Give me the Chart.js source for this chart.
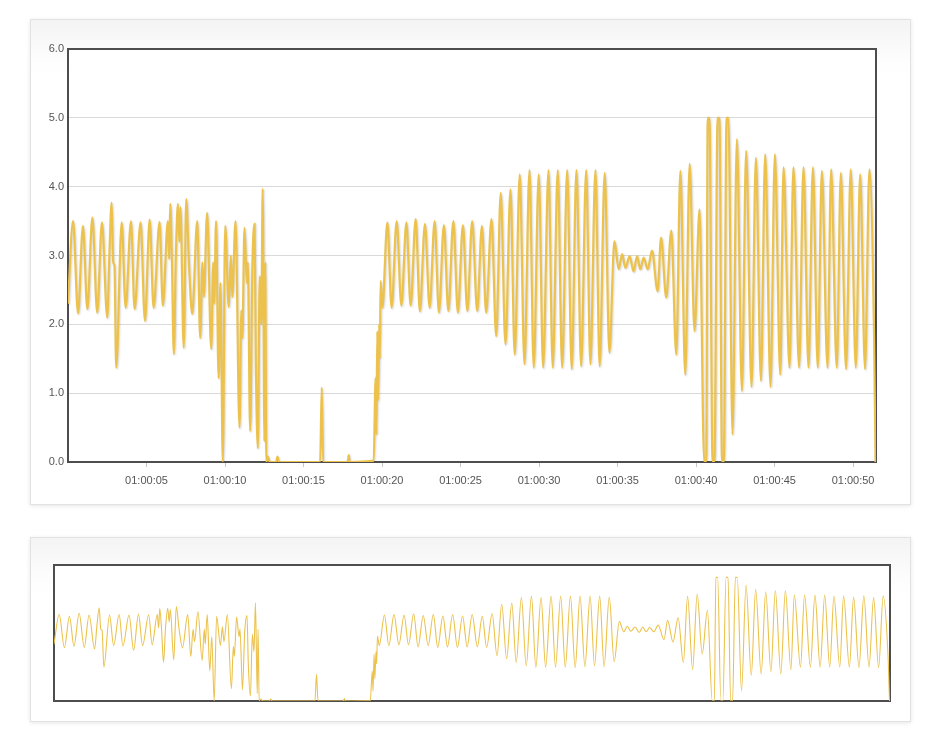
<!DOCTYPE html>
<html>
<head>
<meta charset="utf-8">
<script src="https://cdn.jsdelivr.net/npm/chart.js@4/dist/chart.umd.min.js"></script>
<style>
  html, body { margin: 0; padding: 0; background: #fff; }
  body { width: 930px; height: 736px; position: relative; overflow: hidden; }
  .card {
    position: absolute; left: 30px; width: 879px;
    border: 1px solid #e2e2e2;
    background: linear-gradient(#f4f4f4 0px, #fdfdfd 40px, #ffffff 60px);
    box-shadow: 0 1px 4px rgba(0,0,0,0.10);
  }
  #card1 { top: 19px; height: 484px; }
  #card2 { top: 537px; height: 183px; }
  canvas { position: absolute; left: 0; top: 0; }
</style>
</head>
<body>
<div class="card" id="card1"><canvas id="main" width="881" height="486"></canvas></div>
<div class="card" id="card2"><canvas id="nav" width="881" height="185"></canvas></div>
<script>
// seconds after 01:00:00
const seconds = [
  0.00,0.32,0.64,0.95,1.23,1.55,1.86,2.16,2.50,2.64,2.78,2.88,2.96,3.07,3.42,3.67,4.01,4.24,4.62,4.90,
  5.20,5.45,5.83,6.04,6.36,6.44,6.51,6.62,6.74,6.87,7.00,7.09,7.16,7.37,7.53,7.70,7.91,8.23,8.42,8.56,
  8.65,8.86,9.12,9.25,9.31,9.43,9.59,9.71,9.86,10.01,10.24,10.37,10.46,10.67,10.92,11.04,11.10,11.24,11.39,11.45,
  11.60,11.74,11.88,11.96,12.09,12.21,12.31,12.40,12.51,12.56,12.63,12.72,12.85,13.25,13.34,13.43,16.06,16.16,16.25,17.81,
  17.88,17.94,19.47,19.59,19.64,19.70,19.75,19.82,19.86,19.91,20.02,
  20.34,20.61,20.93,21.23,21.55,21.82,22.14,22.41,22.73,23.03,23.35,23.62,23.94,24.22,24.54,24.83,25.15,25.43,25.74,26.06,
  26.36,26.63,26.97,27.27,27.56,27.86,28.18,28.45,28.77,29.07,29.39,29.66,29.98,30.26,30.60,30.87,31.19,31.47,31.79,32.08,
  32.38,32.68,33.00,33.27,33.59,33.86,34.18,34.48,34.80,35.07,35.29,35.50,35.77,36.02,36.24,36.45,36.66,36.92,37.19,37.55,
  37.77,38.10,38.42,38.74,39.00,39.31,39.59,39.90,40.22,40.52,40.65,40.74,40.85,41.05,41.17,41.37,41.49,41.65,41.77,41.94,
  42.06,42.32,42.60,42.92,43.19,43.53,43.81,44.13,44.40,44.74,45.02,45.36,45.57,45.95,46.20,46.56,46.84,47.16,47.44,47.75,
  48.01,48.37,48.60,48.96,49.22,49.55,49.85,50.17,50.45,50.76,51.04,51.34,51.43
];
const readings = [
  2.30,3.50,2.16,3.43,2.22,3.55,2.17,3.48,2.10,3.04,3.77,2.90,2.85,1.37,3.48,2.24,3.50,2.22,3.48,2.05,
  3.52,2.24,3.49,2.27,3.50,2.95,3.75,2.90,1.57,3.00,3.75,3.20,3.70,1.66,3.82,2.90,2.15,3.50,1.80,2.90,
  2.40,3.62,1.64,2.90,2.30,3.50,1.22,2.60,0.00,3.43,2.25,3.00,2.40,3.50,0.50,2.20,1.80,3.40,2.60,2.90,
  0.45,2.80,3.46,1.50,0.20,2.70,2.00,3.97,0.30,2.90,0.00,0.08,0.00,0.00,0.08,0.00,0.00,1.08,0.00,0.00,
  0.10,0.00,0.02,1.22,0.40,1.90,0.90,2.00,1.50,2.63,2.24,
  3.48,2.24,3.50,2.27,3.48,2.27,3.53,2.19,3.46,2.24,3.50,2.17,3.44,2.19,3.50,2.17,3.44,2.19,3.50,2.19,
  3.43,2.17,3.53,1.83,3.91,1.71,3.96,1.56,4.18,1.42,4.24,1.37,4.18,1.37,4.24,1.37,4.24,1.37,4.24,1.35,
  4.24,1.39,4.24,1.42,4.24,1.39,4.20,1.59,3.21,2.80,3.02,2.82,2.99,2.77,2.99,2.80,2.97,2.80,3.07,2.48,
  3.26,2.39,3.36,1.56,4.23,1.27,4.33,1.90,3.67,0.00,0.00,5.00,5.00,0.00,0.00,5.00,5.00,0.00,0.00,5.00,
  5.00,0.40,4.69,1.03,4.52,1.09,4.42,1.18,4.47,1.09,4.47,1.27,4.28,1.37,4.28,1.37,4.28,1.37,4.28,1.37,
  4.23,1.37,4.25,1.37,4.20,1.35,4.25,1.37,4.18,1.35,4.25,1.80,0.00
];
const xTickSeconds = [5, 10, 15, 20, 25, 30, 35, 40, 45, 50];
const yTickValues = [0, 1, 2, 3, 4, 5, 6];
const timeStart = 0;
const timeEnd = 51.46;

const points = seconds.map((s, i) => ({ x: s, y: readings[i] }));
const lineColor = '#ecc24c';
const fontFam = '"Liberation Sans", Arial, sans-serif';

function fmtTime(v) {
  const s = Math.round(v);
  return '01:00:' + String(s).padStart(2, '0');
}

const framePlugin = {
  id: 'frame',
  beforeDraw(chart) {
    const { ctx, chartArea: a } = chart;
    ctx.save();
    ctx.fillStyle = '#ffffff';
    ctx.fillRect(a.left, a.top, a.width, a.height);
    ctx.restore();
  },
  beforeDatasetsDraw(chart) {
    const { ctx, chartArea: a } = chart;
    ctx.save();
    ctx.strokeStyle = '#4d4d4d';
    ctx.lineWidth = 2;
    ctx.strokeRect(a.left, a.top, a.width, a.height);
    ctx.restore();
  }
};
const shadowPlugin = {
  id: 'lineShadow',
  beforeDatasetDraw(chart) {
    const ctx = chart.ctx;
    ctx.save();
    ctx.shadowColor = chart.options.plugins.lineShadow.color;
    ctx.shadowBlur = 2;
    ctx.shadowOffsetX = 1;
    ctx.shadowOffsetY = 1;
  },
  afterDatasetDraw(chart) { chart.ctx.restore(); }
};

new Chart(document.getElementById('main'), {
  type: 'line',
  data: { datasets: [{
    data: points, borderColor: lineColor, borderWidth: 2.2, pointRadius: 0,
    cubicInterpolationMode: 'monotone', fill: false
  }]},
  options: {
    responsive: false, animation: false, devicePixelRatio: 1,
    layout: { padding: { top: 29, right: 36, left: 0, bottom: 0 } },
    plugins: { legend: { display: false }, tooltip: { enabled: false }, lineShadow: { color: 'rgba(0,0,0,0.16)' } },
    scales: {
      x: {
        type: 'linear', min: timeStart, max: timeEnd,
        afterBuildTicks(scale) { scale.ticks = xTickSeconds.map(v => ({ value: v })); },
        afterFit(scale) { scale.height = 44; },
        border: { display: false },
        grid: { drawOnChartArea: false, drawTicks: true, tickLength: 5, color: '#c8c8c8' },
        ticks: { callback: v => fmtTime(v), color: '#555', font: { family: fontFam, size: 11 }, padding: 7, maxRotation: 0, autoSkip: false }
      },
      y: {
        min: 0, max: 6,
        afterBuildTicks(scale) { scale.ticks = yTickValues.map(v => ({ value: v })); },
        afterFit(scale) { scale.width = 37; },
        border: { display: false },
        grid: { color: '#d9d9d9', drawTicks: false },
        ticks: { callback: v => Number(v).toFixed(1), color: '#555', font: { family: fontFam, size: 11 }, padding: 4 }
      }
    }
  },
  plugins: [framePlugin, shadowPlugin]
});

new Chart(document.getElementById('nav'), {
  type: 'line',
  data: { datasets: [{
    data: points, borderColor: lineColor, borderWidth: 1.1, pointRadius: 0,
    cubicInterpolationMode: 'monotone', fill: false
  }]},
  options: {
    responsive: false, animation: false, devicePixelRatio: 1,
    layout: { padding: { top: 27, right: 22, left: 23, bottom: 22 } },
    plugins: { legend: { display: false }, tooltip: { enabled: false }, lineShadow: { color: 'rgba(0,0,0,0)' } },
    scales: {
      x: { type: 'linear', min: timeStart, max: timeEnd, display: false },
      y: { min: 0, max: 5.5, display: false }
    }
  },
  plugins: [framePlugin]
});
</script>
</body>
</html>
